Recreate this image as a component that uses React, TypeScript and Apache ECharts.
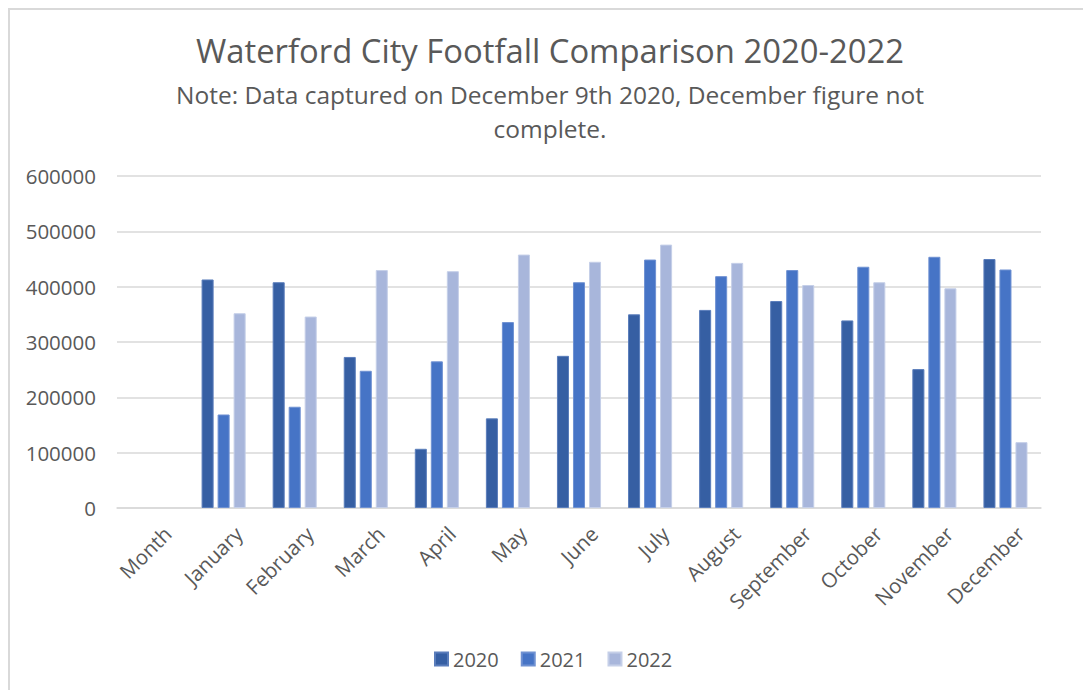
import React, { useEffect, useRef } from "react";
import * as echarts from "echarts";

const categories = ["Month", "January", "February", "March", "April", "May", "June", "July", "August", "September", "October", "November", "December"];
const seriesNames = ["2020", "2021", "2022"];
const values2020 = [null, 413000, 408000, 273000, 107000, 162000, 275000, 350000, 358000, 374000, 339000, 251000, 450000];
const values2021 = [null, 169000, 183000, 248000, 265000, 336000, 408000, 449000, 419000, 430000, 436000, 454000, 431000];
const values2022 = [null, 352000, 346000, 430000, 428000, 458000, 445000, 476000, 443000, 403000, 408000, 397000, 119000];
const colors = ["#365FA3", "#4674C6", "#A8B6DB"];
const borders = ["#5a7dbb", "#6f91d2", "#c5cfe8"];

const titleText = "Waterford City Footfall Comparison 2020-2022";
const subtitleText = "Note: Data captured on December 9th 2020, December figure not\ncomplete.";

export default function App() {
  const ref = useRef<HTMLDivElement>(null);
  useEffect(() => {
    document.body.style.margin = "0";
    const chart = echarts.init(ref.current!, null, { renderer: "svg" });
    const font = "'Open Sans', Lato, sans-serif";
    const all = [values2020, values2021, values2022];
    const gridLeft = 107;
    const gridRight = 42;
    const labelShift = 15;
    chart.setOption({
      animation: false,
      textStyle: { fontFamily: font },
      graphic: [
        {
          type: "text",
          x: 540,
          y: 40,
          style: { text: titleText, textAlign: "center", textVerticalAlign: "middle", fontSize: 32.8, fontFamily: font, fill: "#595959" },
        },
        {
          type: "text",
          x: 540,
          y: 101,
          style: { text: subtitleText, textAlign: "center", textVerticalAlign: "middle", fontSize: 24.5, lineHeight: 34, fontFamily: font, fill: "#595959" },
        },
      ],
      grid: [
        { left: gridLeft, right: gridRight, top: 166, bottom: 182, containLabel: false },
        { left: gridLeft + labelShift, right: gridRight - labelShift, top: 166, bottom: 182, containLabel: false },
      ],
      legend: {
        bottom: 16,
        left: 419,
        icon: "rect",
        itemWidth: 13,
        itemHeight: 13,
        itemGap: 22,
        textStyle: { fontSize: 20, color: "#595959", fontFamily: font },
        data: seriesNames,
      },
      xAxis: [
        {
          type: "category",
          gridIndex: 0,
          data: categories,
          axisLine: { lineStyle: { color: "#d9d9d9", width: 1.5 } },
          axisTick: { show: false },
          axisLabel: { show: false },
        },
        {
          type: "category",
          gridIndex: 1,
          data: categories,
          axisLine: { show: false },
          axisTick: { show: false },
          splitLine: { show: false },
          axisLabel: { rotate: 45, fontSize: 20.5, color: "#595959", margin: 22, interval: 0, fontFamily: font },
        },
      ],
      yAxis: [
        {
          type: "value",
          gridIndex: 0,
          min: 0,
          max: 600000,
          interval: 100000,
          axisLine: { show: false },
          axisTick: { show: false },
          axisLabel: { fontSize: 20.5, color: "#595959", margin: 21, fontFamily: font, formatter: (v: number) => String(v) },
          splitLine: { lineStyle: { color: "#d9d9d9", width: 1.5 } },
        },
        {
          type: "value",
          gridIndex: 1,
          min: 0,
          max: 600000,
          interval: 100000,
          show: false,
        },
      ],
      series: seriesNames.map((name, i) => ({
        name,
        type: "bar",
        xAxisIndex: 0,
        yAxisIndex: 0,
        data: all[i],
        barGap: "33%",
        barCategoryGap: "38%",
        itemStyle: { color: colors[i], borderColor: borders[i], borderWidth: 1 },
      })),
    });
    return () => chart.dispose();
  }, []);
  return (
    <div
      style={{
        position: "fixed",
        left: 8,
        top: 8,
        width: 1075,
        height: 682,
        borderTop: "2px solid #d9d9d9",
        borderLeft: "2px solid #d9d9d9",
        boxSizing: "border-box",
        background: "#fff",
      }}
    >
      <div ref={ref} style={{ width: 1073, height: 680 }} />
    </div>
  );
}
